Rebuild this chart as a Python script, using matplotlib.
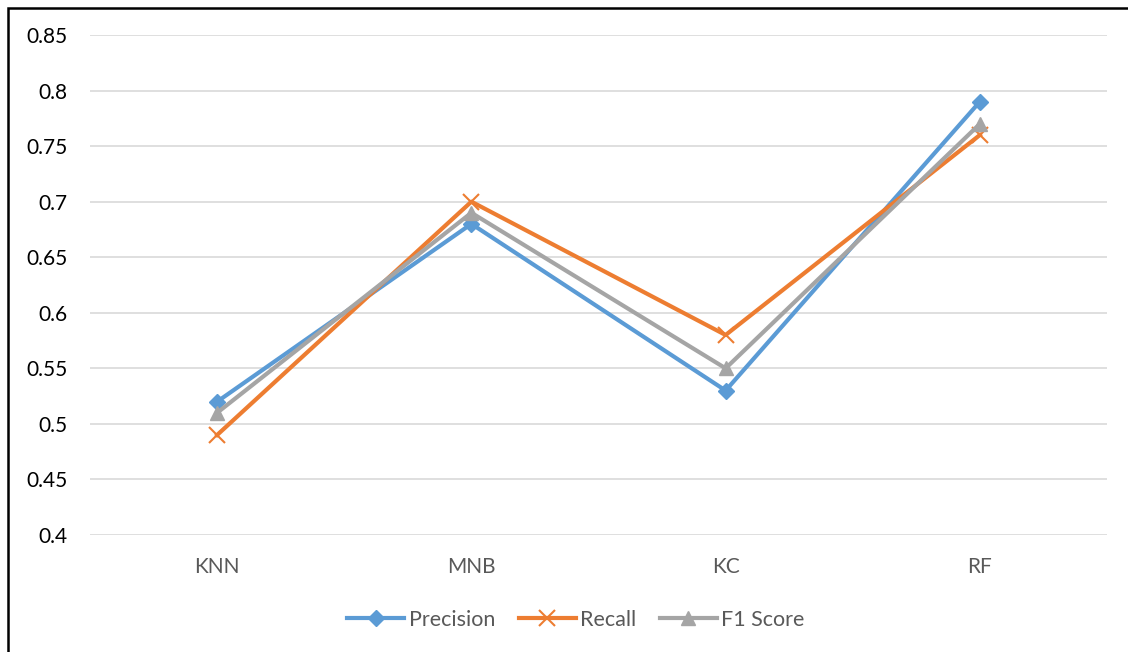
import matplotlib.pyplot as plt
from matplotlib.patches import Rectangle

models = ["KNN", "MNB", "KC", "RF"]
precision = [0.52, 0.68, 0.53, 0.79]
recall = [0.49, 0.70, 0.58, 0.76]
f1_score = [0.51, 0.69, 0.55, 0.77]
yticks = [0.4, 0.45, 0.5, 0.55, 0.6, 0.65, 0.7, 0.75, 0.8, 0.85]
ytick_labels = ["0.4", "0.45", "0.5", "0.55", "0.6", "0.65", "0.7", "0.75", "0.8", "0.85"]

plt.rcParams['font.family'] = ['Lato', 'DejaVu Sans']

fig = plt.figure(figsize=(11.28, 6.52), dpi=100)
ax = fig.add_axes([90/1128, 1 - 535/652, (1107 - 90)/1128, 500/652])

x = range(len(models))
ax.plot(x, precision, color='#5B9BD5', lw=3, marker='D', ms=8, label='Precision', zorder=3)
ax.plot(x, recall, color='#ED7D31', lw=3, marker='x', ms=11, mew=1.5, label='Recall', zorder=3)
ax.plot(x, f1_score, color='#A5A5A5', lw=3, marker='^', ms=10, label='F1 Score', zorder=3)

ax.set_xlim(-0.5, 3.5)
ax.set_ylim(0.4, 0.85)
ax.set_xticks(list(x))
ax.set_xticklabels(models, fontsize=15, color='#595959')
ax.set_yticks(yticks)
ax.set_yticklabels(ytick_labels, fontsize=15, color='black')
ax.tick_params(length=0, pad=16)
ax.tick_params(axis='x', pad=16)
ax.grid(axis='y', color='#D9D9D9', lw=1.2, zorder=0)
for s in ax.spines.values():
    s.set_visible(False)

ax.legend(loc='center', bbox_to_anchor=(576/1128, 1 - 620/652), bbox_transform=fig.transFigure,
          ncol=3, frameon=False, fontsize=15.5, handlelength=2.65, columnspacing=1.1,
          handletextpad=0.2, labelcolor='#595959')

# outer frame, open on the right and bottom
fig.patches.append(Rectangle((8/1128, -0.1), 1.2, 1 - 8/652 + 0.1, transform=fig.transFigure,
                             fill=False, edgecolor='black', lw=1.8))

fig.savefig('out.png', dpi=100)
